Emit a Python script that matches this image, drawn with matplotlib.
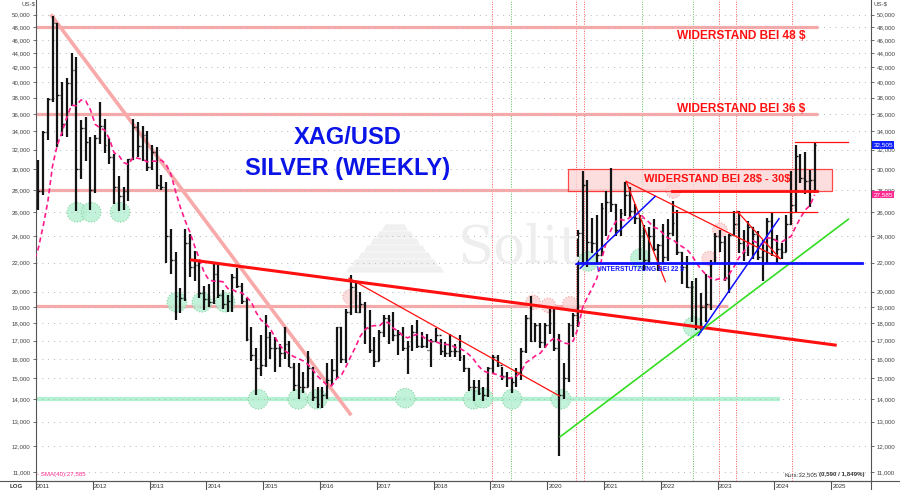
import numpy as np
import pandas as pd
import matplotlib
matplotlib.use("Agg")
import matplotlib.pyplot as plt
from matplotlib.lines import Line2D
from matplotlib.patches import Rectangle, Polygon

plt.rcParams['font.family'] = ['Liberation Sans', 'DejaVu Sans']

# monthly silver bars (US-$), March 2010 .. September 2024
first_month = 2010 + 2 / 12
high = [
    17.8, 18.8, 19.8, 19.5, 18.8, 19.0, 22.1, 24.9, 29.3, 31.0,
    30.9, 34.0, 38.0, 49.8, 48.6, 40.0, 40.5, 44.0, 43.4, 35.3, 35.6, 33.4,
    33.6, 37.5, 35.4, 33.2, 31.5, 29.3, 28.3, 31.0, 35.4, 35.0, 34.6, 34.0,
    32.5, 32.3, 29.4, 28.7, 24.6, 22.8, 20.2, 24.6, 24.2, 22.9, 22.1, 20.4,
    20.5, 21.9, 21.9, 20.1, 19.8, 21.2, 21.6, 20.6, 19.6, 17.8, 16.6, 17.3,
    18.5, 17.5, 17.2, 16.8, 17.8, 17.0, 15.8, 15.8, 15.3, 16.4, 15.6, 14.6,
    14.6, 15.8, 16.0, 17.8, 17.8, 18.9, 21.1, 20.7, 20.0, 19.3, 18.8, 17.2,
    17.6, 18.5, 18.5, 18.7, 17.6, 17.8, 17.0, 17.9, 18.2, 17.5, 17.4, 17.1,
    17.7, 17.1, 16.9, 17.4, 16.8, 17.3, 16.2, 15.5, 14.9, 14.9, 14.6, 15.6,
    16.2, 16.2, 15.6, 15.3, 15.0, 15.5, 16.6, 18.5, 19.7, 18.0, 18.0, 18.0,
    18.9, 18.9, 17.4, 15.8, 18.0, 18.6, 24.5, 29.8, 28.9, 25.5, 25.8, 26.8,
    27.9, 30.1, 26.7, 26.3, 28.7, 28.3, 26.7, 25.8, 24.9, 24.8, 25.4, 23.4,
    25.0, 25.4, 27.0, 26.2, 22.8, 22.5, 20.7, 20.9, 19.9, 21.2, 22.2, 24.3,
    24.5, 24.0, 24.2, 26.1, 26.1, 24.5, 25.3, 24.8, 24.4, 23.7, 25.5, 25.9,
    24.1, 23.5, 25.8, 29.8, 32.5, 31.5, 31.7, 29.9, 32.7,
]
low = [
    16.3, 17.2, 17.0, 17.8, 17.3, 17.6, 19.0, 21.5, 23.8, 26.9,
    26.2, 27.5, 33.0, 37.5, 32.3, 33.5, 33.4, 37.0, 26.1, 29.0, 30.8, 26.2,
    27.7, 32.6, 31.6, 30.5, 26.7, 26.1, 26.2, 27.0, 30.9, 31.2, 30.8, 29.8,
    29.9, 28.1, 28.0, 22.0, 21.2, 18.2, 18.6, 19.4, 21.0, 20.7, 19.6, 18.8,
    19.0, 19.2, 19.6, 18.9, 18.7, 18.7, 20.2, 19.2, 17.0, 15.9, 14.2, 15.1,
    15.6, 16.0, 15.3, 15.6, 16.0, 15.6, 14.4, 14.0, 14.3, 14.6, 13.9, 13.6,
    13.6, 14.0, 14.7, 15.0, 15.8, 15.8, 18.5, 18.6, 18.6, 16.8, 16.3, 15.6,
    15.9, 17.2, 16.8, 17.0, 16.2, 16.4, 15.2, 16.4, 16.6, 16.6, 16.6, 15.6,
    16.9, 16.2, 16.1, 16.1, 16.1, 15.9, 15.3, 14.4, 13.9, 14.2, 13.9, 14.1,
    15.2, 15.6, 14.9, 14.6, 14.3, 14.6, 14.9, 16.3, 16.9, 16.9, 16.6, 16.6,
    17.4, 16.4, 11.6, 14.0, 14.8, 17.2, 17.8, 22.0, 21.7, 22.7, 21.9, 22.6,
    24.0, 26.0, 24.0, 24.0, 25.7, 25.5, 25.0, 22.2, 21.4, 21.8, 22.9, 21.4,
    22.0, 22.1, 24.0, 22.6, 20.5, 20.2, 18.1, 17.6, 17.6, 18.1, 18.8, 21.9,
    22.8, 20.7, 19.9, 24.0, 22.7, 22.1, 22.5, 22.3, 22.2, 20.7, 22.0, 22.5,
    22.0, 22.3, 22.8, 24.9, 26.0, 28.6, 27.6, 26.5, 27.7,
]
close = [
    17.5, 18.6, 18.4, 18.7, 18.0, 19.0, 22.0, 24.7, 28.5, 30.6,
    27.9, 33.9, 37.8, 48.6, 38.3, 34.8, 39.9, 41.7, 30.0, 34.4, 32.8, 28.0,
    33.2, 34.6, 32.5, 31.2, 28.3, 27.4, 27.9, 31.0, 34.5, 32.4, 33.6, 30.2,
    31.7, 28.5, 28.3, 24.0, 22.2, 19.7, 19.6, 23.5, 21.7, 21.8, 19.9, 19.5,
    19.3, 21.2, 19.8, 19.2, 19.4, 21.0, 20.4, 19.4, 17.1, 16.2, 15.5, 15.7,
    17.2, 16.6, 16.6, 16.3, 16.8, 15.6, 14.7, 14.6, 14.6, 15.5, 14.1, 13.8,
    14.2, 14.9, 15.4, 17.8, 16.0, 18.7, 20.3, 18.7, 19.2, 17.7, 16.5, 15.9,
    17.5, 18.3, 18.2, 17.3, 17.4, 16.6, 16.7, 17.5, 16.7, 16.7, 16.5, 17.0,
    17.3, 16.4, 16.3, 16.4, 16.4, 16.1, 15.5, 14.6, 14.6, 14.3, 14.2, 15.5,
    16.1, 15.7, 15.1, 15.0, 14.8, 15.3, 16.4, 18.3, 17.0, 17.9, 16.9, 17.9,
    18.0, 16.6, 14.2, 15.0, 17.9, 18.5, 24.3, 28.5, 23.6, 23.5, 22.6, 26.4,
    26.9, 26.7, 24.5, 25.9, 27.5, 26.1, 25.5, 24.0, 22.2, 24.0, 23.0, 23.3,
    22.4, 24.3, 25.1, 22.8, 21.7, 20.3, 20.3, 17.8, 19.0, 19.2, 22.0, 24.0,
    23.6, 20.9, 24.1, 25.0, 23.5, 22.8, 24.8, 24.2, 22.4, 22.9, 25.3, 23.8,
    23.0, 22.8, 25.0, 26.6, 31.3, 29.1, 28.8, 28.9, 32.5,
]
sma_months = 9  # ~40 weeks

years = list(range(2011, 2026))
y_ticks = [11, 12, 13, 14, 15, 16, 17, 18, 19, 20, 22, 24, 26, 28, 30,
           32, 34, 36, 38, 40, 42, 44, 46, 48, 50]
last_price = 32.505
last_sma = 27.585

# horizontal support / resistance levels: (price, x_from, x_to)
pink_levels = [(48, 2011.0, 2024.77), (36, 2011.0, 2024.77),
               (28, 2011.0, 2024.77), (19.05, 2011.0, 2023.19)]
mint_level = (14, 2011.0, 2024.10)
blue_level = (22, 2020.51, 2025.55)
box_zone = (27.85, 30.0, 2020.37, 2025.02)
red_levels = [(27.9, 2022.20, 2024.75, 2.0), (26.05, 2022.20, 2024.75, 0.9),
              (32.8, 2024.37, 2025.30, 0.9)]

# trend lines: (x0, p0, x1, p1)
pink_trend = (2011.28, 49.8, 2016.53, 13.34)
red_trend = (2013.74, 22.2, 2025.07, 16.75)
red_thin = [(2016.51, 20.9, 2020.21, 14.16), (2021.39, 28.8, 2022.08, 20.66),
            (2021.39, 28.8, 2024.10, 22.3), (2023.34, 26.1, 2024.10, 22.3)]
green_trend = (2020.23, 12.37, 2025.30, 25.4)
blue_trends = [(2020.58, 21.6, 2021.90, 27.4), (2022.66, 17.3, 2024.08, 25.45)]

# marked turning points
green_marks_x = [2011.72, 2011.97, 2012.48, 2013.48, 2013.92, 2014.33,
                 2014.91, 2015.61, 2015.95, 2017.50, 2018.70, 2018.87,
                 2019.38, 2020.24, 2020.72, 2021.64, 2022.57]
green_marks_y = [26, 26, 26, 19.3, 19.3, 19.3,
                 14, 14, 14, 14.05, 14, 14.05,
                 14, 14, 22.1, 22.3, 17.8]
pink_marks_x = [2016.53, 2019.75, 2020.02, 2020.40, 2022.22, 2023.04, 2022.85]
pink_marks_y = [19.65, 19.3, 19.1, 19.2, 27.9, 24.5, 22.3]

# event markers (dotted verticals)
red_events = [2019.03, 2020.51, 2020.65, 2023.03, 2023.33, 2024.31]
green_events = [2019.36, 2021.67, 2022.57]

x = first_month + (np.arange(len(close)) + 0.5) / 12
sma = pd.Series(close).rolling(sma_months).mean().to_numpy()
opens = np.r_[close[0], close[:-1]]

fig = plt.figure(figsize=(9, 4.9), dpi=100)
ax = fig.add_axes([36 / 900, 9 / 490, 835 / 900, 481 / 490])
ax.set_yscale('log')
ax.set_xlim(2011.0, 2025.70)
ax.set_ylim(10.68, 52.5)

PINK = '#f8a9a9'
MINT = '#b2f2d0'
RED = '#ff1010'

# faint logo watermark behind the chart
fig.text(458 / 900, 1 - 263 / 490, 'Solit', family='DejaVu Serif', fontsize=38,
         color='#eeeeee', va='baseline', zorder=0)
for i in range(7):
    w = 48 - i * 6
    yb = 272 - i * 7
    ax.add_patch(Polygon([((395 - w) / 900, 1 - yb / 490), ((395 + w) / 900, 1 - yb / 490),
                          ((395 + w - 3) / 900, 1 - (yb - 5) / 490),
                          ((395 - w + 3) / 900, 1 - (yb - 5) / 490)],
                         closed=True, color='#f0f0f0', transform=fig.transFigure,
                         zorder=0.2))

ax.grid(axis='y', which='major', color='#b5b5b5', linestyle=(0, (1, 5)), lw=0.7)

for xe in red_events:
    ax.axvline(xe, color='#ff5a5a', ls=(0, (1, 1.5)), lw=0.7, zorder=1)
for xe in green_events:
    ax.axvline(xe, color='#5fbf5f', ls=(0, (1, 1.5)), lw=0.7, zorder=1)

for p, x0, x1 in pink_levels:
    ax.plot([x0, x1], [p, p], color=PINK, lw=2.3, solid_capstyle='butt', zorder=1)
ax.plot(mint_level[1:], [mint_level[0]] * 2, color=MINT, lw=3.0,
        solid_capstyle='butt', zorder=1)

ax.scatter(green_marks_x, green_marks_y, s=200, facecolor='#b8f0d4', alpha=0.85,
           edgecolor='#74cc90', linestyle=':', lw=0.8, zorder=1.5)
ax.scatter(pink_marks_x, pink_marks_y, s=110, facecolor='#fbd6d6', alpha=0.85,
           edgecolor='#f29a9a', linestyle=':', lw=0.8, zorder=1.5)

lo, hi, x0, x1 = box_zone
ax.add_patch(Rectangle((x0, lo), x1 - x0, hi - lo, facecolor='#fcd4d4', alpha=0.75,
                       edgecolor=RED, lw=0.9, zorder=2))

ax.plot(pink_trend[::2], pink_trend[1::2], color=PINK, lw=2.6, zorder=2)

# price bars (OHLC)
bar_col = '#141414'
ax.vlines(x, low, high, color=bar_col, lw=1.6, zorder=3)
ax.hlines(opens, x - 0.032, x, color=bar_col, lw=1.0, zorder=3)
ax.hlines(close, x, x + 0.032, color=bar_col, lw=1.0, zorder=3)
ax.plot(x, sma, color='#ff1a8c', lw=1.2, ls=(0, (3, 2)), zorder=4)

ax.plot(red_trend[::2], red_trend[1::2], color=RED, lw=2.2, zorder=5)
for t in red_thin:
    ax.plot(t[::2], t[1::2], color=RED, lw=0.9, zorder=5)
for p, xa, xb, w in red_levels:
    ax.plot([xa, xb], [p, p], color=RED, lw=w, zorder=5)
ax.plot(green_trend[::2], green_trend[1::2], color='#33dd22', lw=1.2, zorder=5)
for t in blue_trends:
    ax.plot(t[::2], t[1::2], color='#1010ff', lw=1.1, zorder=5)
ax.plot(blue_level[1:], [blue_level[0]] * 2, color='#1010ff', lw=2.0, zorder=5)

# texts
ax.text(0.3737, 0.715, 'XAG/USD', transform=ax.transAxes, ha='center', va='center',
        fontsize=17, fontweight='bold', color='#0a14e6', zorder=6)
ax.text(0.3737, 0.649, 'SILVER (WEEKLY)', transform=ax.transAxes, ha='center',
        va='center', fontsize=17, fontweight='bold', color='#0a14e6', zorder=6)
ax.text(2022.29, 46.6, r'WIDERSTAND BEI 48 \$', fontsize=8.6, fontweight='bold',
        color=RED, va='center', zorder=6)
ax.text(2022.29, 36.65, r'WIDERSTAND BEI 36 \$', fontsize=8.6, fontweight='bold',
        color=RED, va='center', zorder=6)
ax.text(2023.0, 29.05, r'WIDERSTAND BEI 28\$ - 30\$', fontsize=8.0, fontweight='bold',
        color=RED, ha='center', va='center', zorder=6)
ax.text(2020.88, 21.56, r'UNTERSTÜTZUNG BEI 22 \$', fontsize=4.8, fontweight='bold',
        color='#1010ff', va='center', zorder=6)

# axes styling
ax.spines['top'].set_visible(False)
for s in ['left', 'right', 'bottom']:
    ax.spines[s].set_color('#555555')
    ax.spines[s].set_linewidth(0.8)
ax.set_yticks(y_ticks)
ax.set_yticklabels([f'{v},000' for v in y_ticks])
ax.yaxis.set_minor_locator(matplotlib.ticker.NullLocator())
ax.tick_params(axis='y', which='major', left=True, right=True, labelleft=True,
               labelright=True, length=2.5, width=0.6, color='#555555',
               labelsize=4.4, labelcolor='#444444', pad=1.5)
ax.set_xticks(years)
ax.set_xticklabels([])
ax.tick_params(axis='x', length=6.5, width=0.8, color='#555555', direction='out')
for yr in years:
    ax.text(yr + 0.02, -0.011, str(yr), transform=ax.get_xaxis_transform(),
            fontsize=4.4, color='#333333', va='center', ha='left', clip_on=False)

# price tags on the right axis
tag = ax.get_yaxis_transform()
ax.text(1.003, last_price, f'{last_price:.3f}'.replace('.', ','), transform=tag,
        fontsize=4.6, color='white', va='center', ha='left',
        bbox=dict(boxstyle='square,pad=0.2', fc='#1020ff', ec='none'), zorder=7)
ax.text(1.003, last_sma, f'{last_sma:.3f}'.replace('.', ','), transform=tag,
        fontsize=4.6, color='white', va='center', ha='left',
        bbox=dict(boxstyle='square,pad=0.2', fc='#ff2a90', ec='none'), zorder=7)

fig.add_artist(Line2D([0, 1], [9 / 490, 9 / 490], color='#555555', lw=0.8))
fig.add_artist(Line2D([871 / 900, 871 / 900], [0, 9 / 490], color='#555555', lw=0.8))
fig.add_artist(Line2D([36 / 900, 36 / 900], [0, 9 / 490], color='#555555', lw=0.8))
fig.text(21 / 900, 1 - 4 / 490, 'US-$', fontsize=4.4, color='#444444', va='center')
fig.text(873 / 900, 1 - 4 / 490, 'US-$', fontsize=4.4, color='#444444', va='center')
fig.text(10 / 900, 1 - 486 / 490, 'LOG', fontsize=4.4, fontweight='bold',
         color='#333333', va='center')
ax.text(0.0015, 0.0085, f'- SMA(40):{last_sma:.3f}'.replace('.', ','),
        transform=ax.transAxes, fontsize=4.4, color='#ff2a90', va='bottom')

# bottom-right quote: plain part followed by bold change figures
chg = ax.text(0.9925, 0.0085, '(0,590 / 1,849%)', transform=ax.transAxes,
              fontsize=4.4, color='#333333', va='bottom', ha='right',
              fontweight='bold')
renderer = fig.canvas.get_renderer()
bb = chg.get_window_extent(renderer).transformed(ax.transAxes.inverted())
ax.text(bb.x0 - 0.002, 0.0085, 'Kurs:32,505', transform=ax.transAxes, fontsize=4.4,
        color='#333333', va='bottom', ha='right')

fig.savefig('out.png', dpi=100)
